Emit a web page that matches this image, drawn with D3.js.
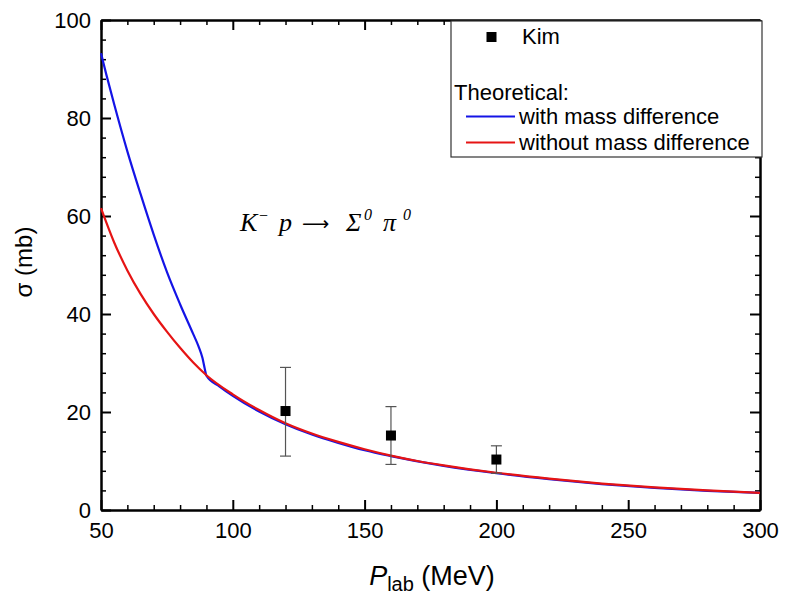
<!DOCTYPE html>
<html>
<head>
<meta charset="utf-8">
<script src="https://cdn.jsdelivr.net/npm/d3@7"></script>
<style>
  html, body { margin: 0; padding: 0; background: #fff; }
  svg text { fill: #000; }
</style>
</head>
<body>
<svg id="chart" width="786" height="600" font-family="Liberation Sans, Arial, Helvetica, sans-serif"></svg>
<script>
// Momentum grid (MeV) and cross sections (mb) for the two theoretical curves
const pRed   = [50, 55, 60, 65, 70, 75, 80, 85, 90, 100, 110, 120, 130, 140, 150, 160, 170, 180, 190, 200, 220, 240, 260, 280, 300];
const sigRed = [61.6, 54.6, 48.9, 44.1, 40.0, 36.4, 33.1, 30.1, 27.5, 23.6, 20.4, 17.7, 15.6, 13.9, 12.4, 11.1, 10.0, 9.1, 8.3, 7.6, 6.4, 5.4, 4.6, 4.0, 3.5];

const pBlue   = [50, 52, 55, 60, 65, 70, 75, 80, 85, 87, 88.5, 89.3, 90, 95, 100, 110, 120, 130, 140, 150, 160, 180, 200, 220, 240, 260, 280, 300];
const sigBlue = [93.2, 88.9, 82.8, 73.2, 64.5, 56.2, 48.6, 42.0, 35.9, 33.4, 31.0, 29.0, 27.4, 25.2, 23.3, 20.1, 17.5, 15.4, 13.7, 12.2, 11.0, 9.0, 7.5, 6.3, 5.3, 4.5, 3.9, 3.5];

// Kim measurements with error bars
const kimP    = [120, 160, 200];
const kimSig  = [20.2, 15.2, 10.3];
const kimHigh = [29.1, 21.1, 13.1];
const kimLow  = [11.0, 9.3, 7.5];

const xMajorTicks = [50, 100, 150, 200, 250, 300];
const yMajorTicks = [0, 20, 40, 60, 80, 100];

const svg = d3.select("#chart");
const L = 101, R = 760, T = 20, B = 510;

const x = d3.scaleLinear().domain([50, 300]).range([L, R]);
const y = d3.scaleLinear().domain([0, 100]).range([B, T]);

const xMinor = d3.range(50, 301, 10).filter(v => v % 50 !== 0);
const yMinor = d3.range(0, 101, 4).filter(v => v % 20 !== 0);

function styleAxis(g, sw) {
  g.attr("font-family", null);
  g.select(".domain").attr("stroke", "#000").attr("stroke-width", 2);
  g.selectAll(".tick line").attr("stroke", "#000").attr("stroke-width", sw);
}

// Bottom axis with labels
const gB = svg.append("g").attr("transform", `translate(0,${B})`)
  .call(d3.axisBottom(x).tickValues(xMajorTicks).tickSize(-10).tickSizeOuter(0).tickPadding(12).tickFormat(d3.format("d")));
styleAxis(gB, 2);
gB.attr("font-size", 22);
const gBm = svg.append("g").attr("transform", `translate(0,${B})`)
  .call(d3.axisBottom(x).tickValues(xMinor).tickSize(-5).tickSizeOuter(0).tickFormat(""));
styleAxis(gBm, 1.5);

// Top axis (ticks only)
const gT = svg.append("g").attr("transform", `translate(0,${T})`)
  .call(d3.axisTop(x).tickValues(xMajorTicks).tickSize(-10).tickSizeOuter(0).tickFormat(""));
styleAxis(gT, 2);
const gTm = svg.append("g").attr("transform", `translate(0,${T})`)
  .call(d3.axisTop(x).tickValues(xMinor).tickSize(-5).tickSizeOuter(0).tickFormat(""));
styleAxis(gTm, 1.5);

// Left axis with labels
const gL = svg.append("g").attr("transform", `translate(${L},0)`)
  .call(d3.axisLeft(y).tickValues(yMajorTicks).tickSize(-10).tickSizeOuter(0).tickPadding(10).tickFormat(d3.format("d")));
styleAxis(gL, 2);
gL.attr("font-size", 22);
const gLm = svg.append("g").attr("transform", `translate(${L},0)`)
  .call(d3.axisLeft(y).tickValues(yMinor).tickSize(-5).tickSizeOuter(0).tickFormat(""));
styleAxis(gLm, 1.5);

// Right axis (ticks only)
const gR = svg.append("g").attr("transform", `translate(${R},0)`)
  .call(d3.axisRight(y).tickValues(yMajorTicks).tickSize(-10).tickSizeOuter(0).tickFormat(""));
styleAxis(gR, 2);
const gRm = svg.append("g").attr("transform", `translate(${R},0)`)
  .call(d3.axisRight(y).tickValues(yMinor).tickSize(-5).tickSizeOuter(0).tickFormat(""));
styleAxis(gRm, 1.5);

// Theoretical curves
const line = d3.line().x(d => x(d[0])).y(d => y(d[1])).curve(d3.curveMonotoneX);
svg.append("path").datum(d3.zip(pBlue, sigBlue))
  .attr("d", line).attr("fill", "none").attr("stroke", "#1414e6").attr("stroke-width", 2.2);
svg.append("path").datum(d3.zip(pRed, sigRed))
  .attr("d", line).attr("fill", "none").attr("stroke", "#e61414").attr("stroke-width", 2.2);

// Experimental points with error bars
const kim = kimP.map((p, i) => ({ p, s: kimSig[i], hi: kimHigh[i], lo: kimLow[i] }));
const eb = svg.append("g").attr("stroke", "#555").attr("stroke-width", 1.2);
eb.selectAll("line.v").data(kim).join("line")
  .attr("x1", d => x(d.p)).attr("x2", d => x(d.p))
  .attr("y1", d => y(d.hi)).attr("y2", d => y(d.lo));
eb.selectAll("line.t").data(kim).join("line")
  .attr("x1", d => x(d.p) - 5.5).attr("x2", d => x(d.p) + 5.5)
  .attr("y1", d => y(d.hi)).attr("y2", d => y(d.hi));
eb.selectAll("line.b").data(kim).join("line")
  .attr("x1", d => x(d.p) - 5.5).attr("x2", d => x(d.p) + 5.5)
  .attr("y1", d => y(d.lo)).attr("y2", d => y(d.lo));
svg.append("g").selectAll("rect").data(kim).join("rect")
  .attr("x", d => x(d.p) - 5).attr("y", d => y(d.s) - 5)
  .attr("width", 10).attr("height", 10).attr("fill", "#000");

// Reaction label: K⁻ p → Σ⁰ π⁰
const rx = svg.append("text").attr("y", 231)
  .attr("font-family", "Liberation Serif, Times New Roman, serif")
  .attr("font-size", 26).attr("font-style", "italic");
rx.append("tspan").attr("x", 240).text("K");
rx.append("tspan").attr("x", 259).attr("dy", -10).attr("font-size", 16).attr("font-style", "normal").text("\u2212");
rx.append("tspan").attr("x", 279).attr("dy", 10).text("p");
rx.append("tspan").attr("x", 302).attr("dy", -1).attr("font-family", "DejaVu Sans, sans-serif")
  .attr("font-size", 19).attr("font-style", "normal").text("\u27F6");
rx.append("tspan").attr("x", 346).attr("dy", 1).text("\u03A3");
rx.append("tspan").attr("x", 364).attr("dy", -11).attr("font-size", 16).text("0");
rx.append("tspan").attr("x", 383).attr("dy", 11).text("\u03C0");
rx.append("tspan").attr("x", 403).attr("dy", -11).attr("font-size", 16).text("0");

// Axis titles
svg.append("text").attr("transform", `translate(${32},${262}) rotate(-90)`)
  .attr("text-anchor", "middle").attr("font-size", 24).text("\u03C3 (mb)");
const xt = svg.append("text").attr("x", 432).attr("y", 585)
  .attr("text-anchor", "middle").attr("font-size", 27);
xt.append("tspan").attr("font-style", "italic").text("P");
xt.append("tspan").attr("dy", 6).attr("font-size", 20).text("lab");
xt.append("tspan").attr("dy", -6).text(" (MeV)");

// Legend
const lg = svg.append("g");
lg.append("rect").attr("x", 451).attr("y", 21).attr("width", 311).attr("height", 136)
  .attr("fill", "#fff").attr("stroke", "#333").attr("stroke-width", 1.2);
lg.append("rect").attr("x", 486.5).attr("y", 32).attr("width", 10).attr("height", 10).attr("fill", "#000");
lg.append("text").attr("x", 522).attr("y", 44).attr("font-size", 22).text("Kim");
lg.append("text").attr("x", 454).attr("y", 100).attr("font-size", 22).text("Theoretical:");
lg.append("line").attr("x1", 466).attr("x2", 515).attr("y1", 116.5).attr("y2", 116.5)
  .attr("stroke", "#1414e6").attr("stroke-width", 2);
lg.append("text").attr("x", 519).attr("y", 124).attr("font-size", 22).text("with mass difference");
lg.append("line").attr("x1", 466).attr("x2", 515).attr("y1", 142.5).attr("y2", 142.5)
  .attr("stroke", "#e61414").attr("stroke-width", 2);
lg.append("text").attr("x", 519).attr("y", 150).attr("font-size", 22).text("without mass difference");
</script>
</body>
</html>
